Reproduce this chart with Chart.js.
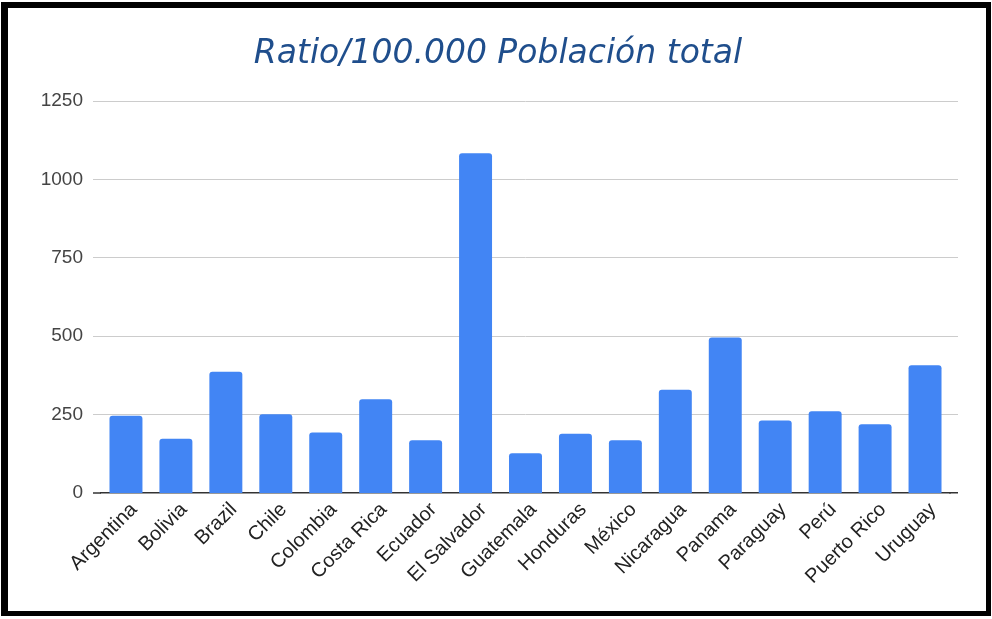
<!DOCTYPE html>
<html>
<head>
<meta charset="utf-8">
<script src="https://cdn.jsdelivr.net/npm/chart.js@4.4.0/dist/chart.umd.min.js"></script>
<style>
  html, body { margin: 0; padding: 0; background: #fff; }
  #wrap { position: relative; width: 992px; height: 619px; }
  #myChart { position: absolute; left: 0; top: 0; }
  #frame {
    position: absolute; left: 1px; top: 2px; width: 990px; height: 614px;
    box-sizing: border-box; border: solid #000;
    border-width: 6px 5px 5px 7px; pointer-events: none;
  }
</style>
</head>
<body>
<div id="wrap">
  <canvas id="myChart" width="992" height="619"></canvas>
  <div id="frame"></div>
</div>
<script>
var paises = ["Argentina", "Bolivia", "Brazil", "Chile", "Colombia", "Costa Rica", "Ecuador",
    "El Salvador", "Guatemala", "Honduras", "México", "Nicaragua", "Panama", "Paraguay",
    "Perú", "Puerto Rico", "Uruguay"];
var ratios = [246, 173, 387, 251, 193, 299, 168, 1083, 127, 189, 168, 329, 496, 231, 261, 219, 407];
var yTicks = [0, 250, 500, 750, 1000, 1250];

function lineColor(value) {
    return value === 0 ? "#333333" : "#cccccc";
}

// alarga las lineas de la rejilla un poco a la derecha del area del grafico
var extendGrid = {
    id: "extendGrid",
    afterDraw(chart) {
        const ctx = chart.ctx;
        const area = chart.chartArea;
        const y = chart.scales.y;
        ctx.save();
        y.ticks.forEach((t) => {
            const w = t.value === 0 ? 1.5 : 1;
            const py = Math.round(y.getPixelForValue(t.value) - w / 2) + w / 2;
            ctx.beginPath();
            ctx.strokeStyle = lineColor(t.value);
            ctx.lineWidth = w;
            ctx.moveTo(area.right - 1, py);
            ctx.lineTo(area.right + 8, py);
            ctx.stroke();
        });
        ctx.restore();
    },
};

var ctx = document.getElementById("myChart").getContext("2d");
var chart = new Chart(ctx, {
    type: "bar",
    data: {
        labels: paises,
        datasets: [
            {
                label: "Ratio/100.000 Población total",
                data: ratios,
                backgroundColor: "#4285f4",
                borderRadius: { topLeft: 3, topRight: 3 },
                borderSkipped: "bottom",
                barPercentage: 0.66,
                categoryPercentage: 1.0,
            },
        ],
    },
    options: {
        responsive: false,
        animation: false,
        layout: { padding: { top: 35, right: 0, bottom: 0, left: 4 } },
        plugins: {
            legend: { display: false },
            tooltip: { enabled: false },
            title: {
                display: true,
                text: "Ratio/100.000 Población total",
                color: "#1f4e8c",
                font: { family: "'DejaVu Sans', Verdana, sans-serif", size: 33, style: "italic", weight: "normal", lineHeight: 1.2 },
                padding: { top: 0, bottom: 26.4 },
            },
        },
        scales: {
            x: {
                grid: { display: false, drawTicks: false },
                border: { display: true, color: "#333333", width: 1.5 },
                ticks: {
                    color: "#222222",
                    font: { family: "'Liberation Sans', Arial, sans-serif", size: 20 },
                    minRotation: 45,
                    maxRotation: 45,
                    padding: 5,
                    labelOffset: 8,
                    autoSkip: false,
                },
                afterFit(scale) {
                    scale.height = 126;
                },
            },
            y: {
                min: 0,
                max: 1250,
                afterBuildTicks(scale) {
                    scale.ticks = yTicks.map((v) => ({ value: v }));
                },
                grid: {
                    color: (c) => lineColor(c.tick.value),
                    tickColor: (c) => lineColor(c.tick.value),
                    lineWidth: (c) => (c.tick.value === 0 ? 0 : 1),
                    tickWidth: (c) => (c.tick.value === 0 ? 1.5 : 1),
                    tickLength: 8,
                    drawTicks: true,
                },
                border: { display: false },
                ticks: {
                    color: "#444444",
                    font: { family: "'Liberation Sans', Arial, sans-serif", size: 19 },
                    padding: 10,
                    callback: (v) => String(v),
                },
                afterFit(scale) {
                    scale.width = 97;
                },
            },
            // eje vacio a la derecha, solo para reservar espacio
            derecha: {
                position: "right",
                display: true,
                grid: { display: false, drawTicks: false },
                border: { display: false },
                ticks: { display: false },
                afterFit(scale) {
                    scale.width = 42;
                },
            },
        },
    },
    plugins: [extendGrid],
});
</script>
</body>
</html>
